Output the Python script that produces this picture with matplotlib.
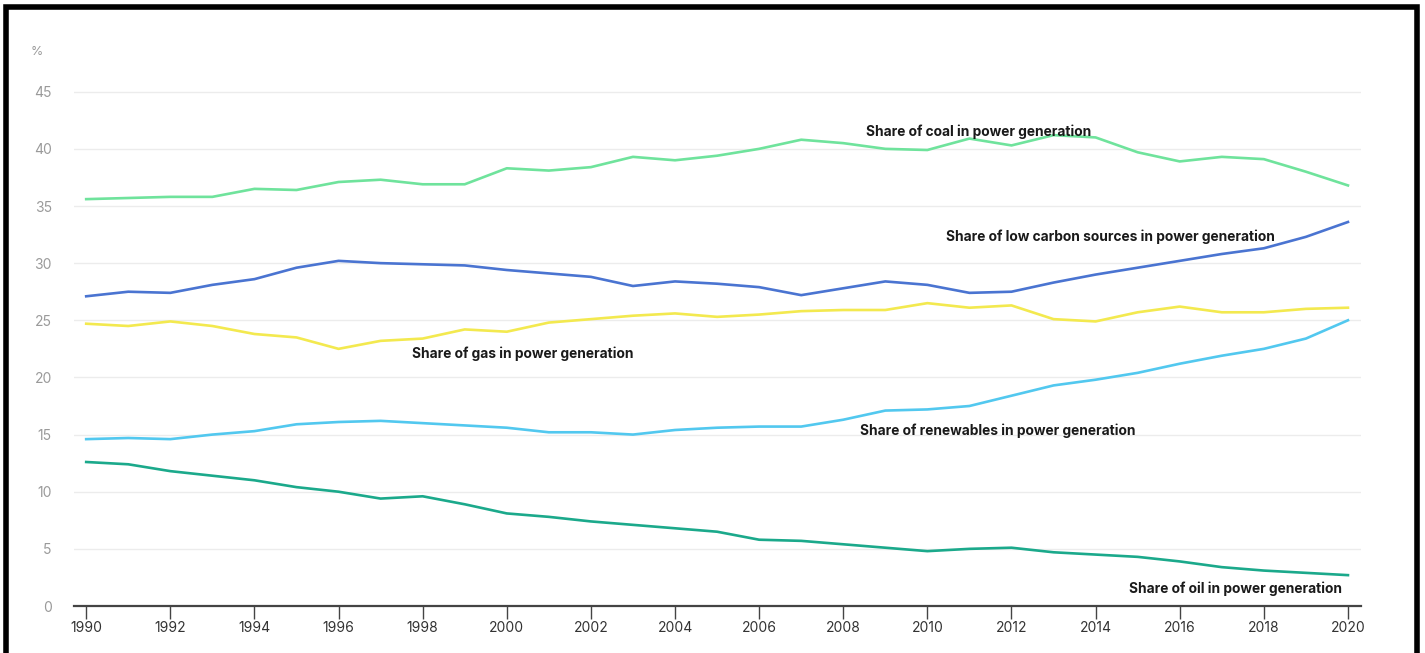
import numpy as np
import matplotlib.pyplot as plt
from matplotlib.patches import Rectangle

# Anos e participações na geração de energia (%)
years = np.arange(1990, 2021)

coal = [35.6, 35.7, 35.8, 35.8, 36.5, 36.4, 37.1, 37.3, 36.9, 36.9,
        38.3, 38.1, 38.4, 39.3, 39.0, 39.4, 40.0, 40.8, 40.5, 40.0,
        39.9, 40.9, 40.3, 41.2, 41.0, 39.7, 38.9, 39.3, 39.1, 38.0, 36.8]
low_carbon = [27.1, 27.5, 27.4, 28.1, 28.6, 29.6, 30.2, 30.0, 29.9, 29.8,
              29.4, 29.1, 28.8, 28.0, 28.4, 28.2, 27.9, 27.2, 27.8, 28.4,
              28.1, 27.4, 27.5, 28.3, 29.0, 29.6, 30.2, 30.8, 31.3, 32.3, 33.6]
gas = [24.7, 24.5, 24.9, 24.5, 23.8, 23.5, 22.5, 23.2, 23.4, 24.2,
       24.0, 24.8, 25.1, 25.4, 25.6, 25.3, 25.5, 25.8, 25.9, 25.9,
       26.5, 26.1, 26.3, 25.1, 24.9, 25.7, 26.2, 25.7, 25.7, 26.0, 26.1]
renewables = [14.6, 14.7, 14.6, 15.0, 15.3, 15.9, 16.1, 16.2, 16.0, 15.8,
              15.6, 15.2, 15.2, 15.0, 15.4, 15.6, 15.7, 15.7, 16.3, 17.1,
              17.2, 17.5, 18.4, 19.3, 19.8, 20.4, 21.2, 21.9, 22.5, 23.4, 25.0]
oil = [12.6, 12.4, 11.8, 11.4, 11.0, 10.4, 10.0, 9.4, 9.6, 8.9,
       8.1, 7.8, 7.4, 7.1, 6.8, 6.5, 5.8, 5.7, 5.4, 5.1,
       4.8, 5.0, 5.1, 4.7, 4.5, 4.3, 3.9, 3.4, 3.1, 2.9, 2.7]

labels = ["Share of coal in power generation",
          "Share of low carbon sources in power generation",
          "Share of gas in power generation",
          "Share of renewables in power generation",
          "Share of oil in power generation"]
label_x = [2008.55, 2010.45, 1997.75, 2008.4, 2014.8]
label_y = [41.5, 32.3, 22.05, 15.3, 1.5]

series = [coal, low_carbon, gas, renewables, oil]
colors = ["#6fe39c", "#4a74d1", "#f3e94f", "#52c8ef", "#1ba98b"]

plt.rcParams['font.family'] = ['Inter', 'DejaVu Sans']

fig = plt.figure(figsize=(14.25, 6.53), dpi=100)
ax = fig.add_axes([74 / 1425, 47 / 653, 1287 / 1425, 520 / 653])

for vals, c in zip(series, colors):
    ax.plot(years, vals, color=c, linewidth=1.9, solid_joinstyle='round', zorder=3)

for txt, x, y in zip(labels, label_x, label_y):
    ax.text(x, y, txt, fontsize=9.9, fontweight='bold', color='#1a1a1a',
            va='center', ha='left', zorder=4)

ax.set_xlim(1989.71, 2020.31)
ax.set_ylim(0, 45.5)
ax.set_xticks(np.arange(1990, 2021, 2))
ax.set_yticks(np.arange(0, 46, 5))
ax.grid(axis='y', color='#ececec', linewidth=1)
ax.set_axisbelow(True)

for s in ['top', 'right', 'left']:
    ax.spines[s].set_visible(False)
ax.spines['bottom'].set_color('#444444')
ax.spines['bottom'].set_linewidth(1.6)

ax.tick_params(axis='y', length=0, labelsize=10, labelcolor='#9a9a9a', pad=16)
ax.tick_params(axis='x', length=9, width=1, color='#444444', labelsize=10,
               labelcolor='#333333', pad=2)

fig.text(31 / 1425, 1 - 52 / 653, "%", fontsize=9, color='#9a9a9a', va='center')

# moldura preta
fig.patches.append(Rectangle((6 / 1425, -0.05), 1411 / 1425, 1 - 7 / 653 + 0.05,
                             transform=fig.transFigure, fill=False,
                             edgecolor='black', linewidth=4))

plt.savefig("out.png", dpi=100)
